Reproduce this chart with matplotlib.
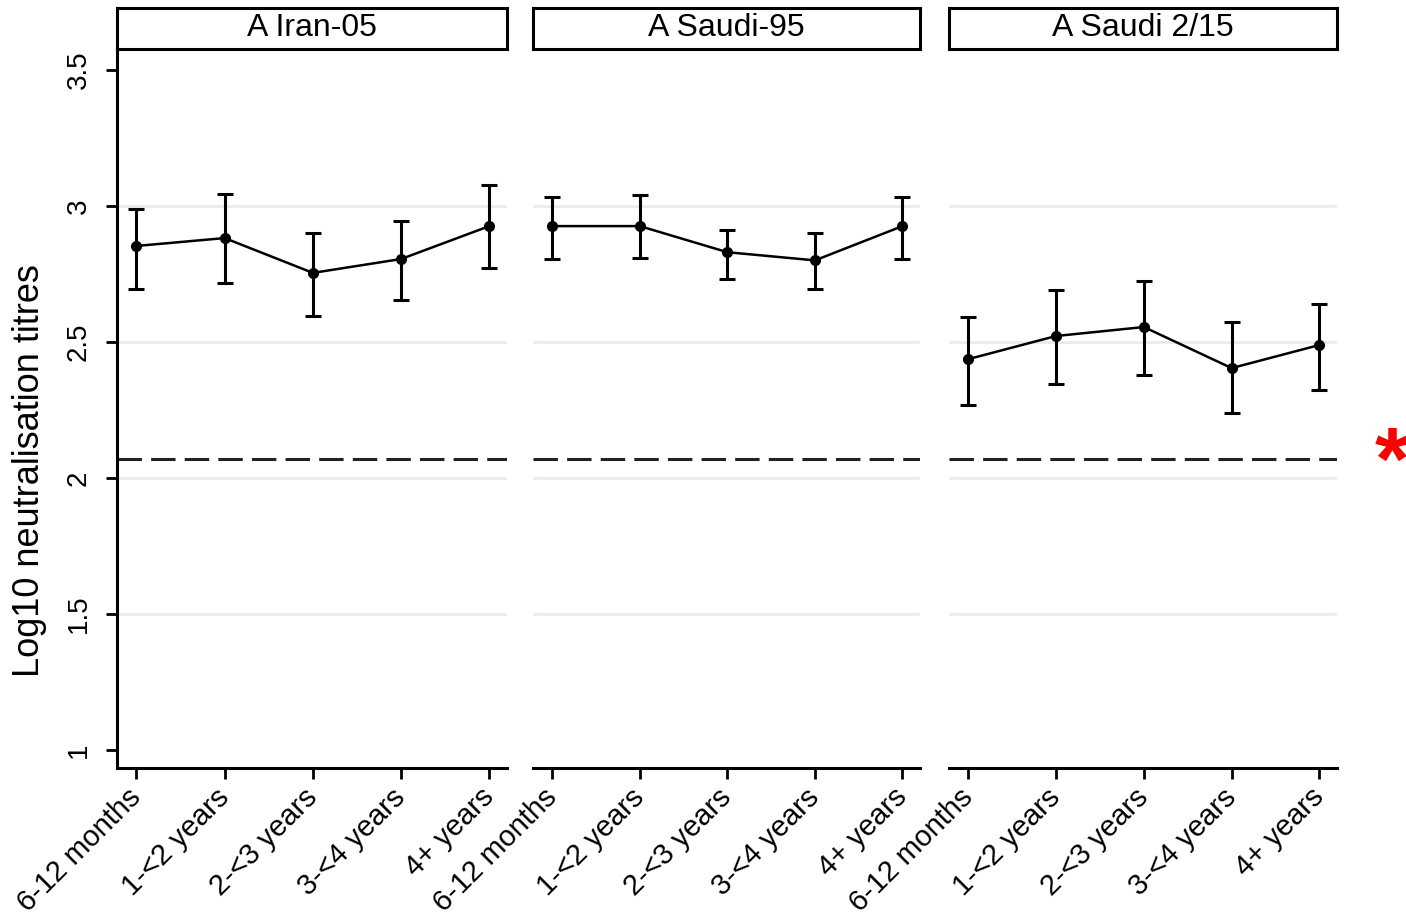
import matplotlib.pyplot as plt
import numpy as np

plt.rcParams['font.family'] = ['Liberation Sans', 'DejaVu Sans']

# Age groups and virus strains
age_groups = ['6-12 months', '1-<2 years', '2-<3 years', '3-<4 years', '4+ years']
strains = ['A Iran-05', 'A Saudi-95', 'A Saudi 2/15']

# Mean log10 titres with 95% CI per strain
means = {
    'A Iran-05':    [2.853, 2.882, 2.754, 2.805, 2.926],
    'A Saudi-95':   [2.926, 2.926, 2.830, 2.800, 2.926],
    'A Saudi 2/15': [2.437, 2.522, 2.555, 2.404, 2.489],
}
lower = {
    'A Iran-05':    [2.695, 2.717, 2.596, 2.654, 2.772],
    'A Saudi-95':   [2.805, 2.810, 2.730, 2.695, 2.805],
    'A Saudi 2/15': [2.268, 2.346, 2.379, 2.239, 2.324],
}
upper = {
    'A Iran-05':    [2.990, 3.044, 2.900, 2.945, 3.077],
    'A Saudi-95':   [3.033, 3.040, 2.910, 2.900, 3.033],
    'A Saudi 2/15': [2.592, 2.691, 2.724, 2.574, 2.640],
}

protective_titre = 2.07
y_ticks = [1, 1.5, 2, 2.5, 3, 3.5]
y_ticklabels = ['1', '1.5', '2', '2.5', '3', '3.5']
grid_levels = [1.5, 2, 2.5, 3]

W, H = 1406, 913
fig = plt.figure(figsize=(W / 100, H / 100), dpi=100)

panel_px = [(117, 507), (533, 920), (949, 1337)]
ax_top, ax_bot = 49, 768
strip_top = 8

x = np.arange(1, len(age_groups) + 1)

for i, (strain, (x0, x1)) in enumerate(zip(strains, panel_px)):
    ax = fig.add_axes([x0 / W, 1 - ax_bot / H, (x1 - x0) / W, (ax_bot - ax_top) / H])
    m = np.array(means[strain])
    lo = np.array(lower[strain])
    hi = np.array(upper[strain])

    for g in grid_levels:
        ax.axhline(g, color='#e4edef', lw=2, zorder=0)
    ax.axhline(protective_titre, color='#222222', lw=2.2, ls=(0, (8, 3)), zorder=1)

    ax.errorbar(x, m, yerr=[m - lo, hi - m], fmt='none', ecolor='black',
                elinewidth=2.2, capsize=6, capthick=2.2, zorder=2)
    ax.plot(x, m, color='black', lw=1.8, marker='o', ms=7, zorder=3)

    ax.set_xlim(0.78, 5.2)
    ax.set_ylim(0.934, 3.577)
    ax.set_xticks(x)
    ax.set_xticklabels(age_groups, rotation=45, ha='right', va='center',
                       rotation_mode='anchor', fontsize=21)
    ax.tick_params(axis='x', length=8, width=2, pad=10)

    for s in ['top', 'right']:
        ax.spines[s].set_visible(False)
    ax.spines['bottom'].set_linewidth(2.2)

    if i == 0:
        ax.spines['left'].set_linewidth(2.2)
        ax.set_yticks(y_ticks)
        ax.set_yticklabels(y_ticklabels, rotation=90, va='center', fontsize=20)
        ax.tick_params(axis='y', length=8, width=2, pad=10)
        ax.set_ylabel('Log10 neutralisation titres', fontsize=26)
        ax.yaxis.set_label_coords(-0.18, 0.414)
    else:
        ax.spines['left'].set_visible(False)
        ax.set_yticks([])

    # strain header box
    sax = fig.add_axes([x0 / W, 1 - ax_top / H, (x1 - x0) / W, (ax_top - strip_top) / H])
    sax.set_xticks([])
    sax.set_yticks([])
    for s in sax.spines.values():
        s.set_linewidth(2.2)
    sax.text(0.5, 0.5, strain, ha='center', va='center', fontsize=23,
             transform=sax.transAxes)

fig.text(1392 / W, 1 - 466 / H, '*', color='red', fontsize=64, fontweight='bold',
         ha='center', va='center')

fig.savefig('out.png', dpi=100)
